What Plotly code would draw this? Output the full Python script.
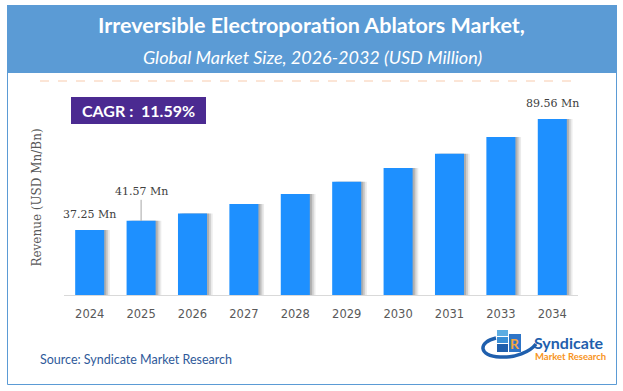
import plotly.graph_objects as go

# ---- data ----
years = ["2024", "2025", "2026", "2027", "2028", "2029", "2030", "2031", "2033", "2034"]
revenue = [37.25, 41.57, 45.0, 49.5, 54.2, 60.0, 66.5, 73.2, 81.1, 89.56]
value_labels = ["37.25 Mn", "41.57 Mn", "", "", "", "", "", "", "", "89.56 Mn"]
title_main = "Irreversible Electroporation Ablators Market,"
title_sub = "Global Market Size, 2026-2032 (USD Million)"
cagr_text = "CAGR :  11.59%"
y_title = "Revenue (USD Mn/Bn)"
source_text = "Source: Syndicate Market Research"

W, H = 623, 391
L, R, T, B = 64, 45, 100, 96
PW, PH = W - L - R, H - T - B


def px(x):
    return (x - L) / PW


def py(y):
    return (H - B - y) / PH


BAR_W = 0.565
fig = go.Figure()
# soft shadow layers
for off, alpha in [(0.11, 0.10), (0.075, 0.16), (0.04, 0.22)]:
    fig.add_trace(go.Bar(
        x=years, y=revenue, width=BAR_W, offset=-BAR_W / 2 + off,
        marker=dict(color=f"rgba(60,60,60,{alpha})", line=dict(width=0)),
        hoverinfo="skip", showlegend=False,
    ))
fig.add_trace(go.Bar(
    x=years, y=revenue, width=BAR_W, offset=-BAR_W / 2,
    marker=dict(color="#1E90FF", line=dict(width=0)),
    showlegend=False,
))

shapes = []
shapes.append(dict(type="rect", xref="paper", yref="paper",
                   x0=px(7.5), x1=px(616.5), y0=py(5.5), y1=py(384.5),
                   line=dict(color="#5B9BD5", width=1), fillcolor="rgba(0,0,0,0)", layer="below"))
shapes.append(dict(type="rect", xref="paper", yref="paper",
                   x0=px(7), x1=px(617), y0=py(5), y1=py(73),
                   line=dict(width=0), fillcolor="#5B9BD5", layer="below"))
shapes.append(dict(type="line", xref="paper", yref="paper",
                   x0=px(40), x1=px(580), y0=py(81), y1=py(81),
                   line=dict(color="#F8CBAD", width=1, dash="dash")))
shapes.append(dict(type="rect", xref="paper", yref="paper",
                   x0=px(71), x1=px(206), y0=py(97), y1=py(124),
                   line=dict(width=0), fillcolor="#4B2A91"))
shapes.append(dict(type="path", xref="paper", yref="paper",
                   path=(f"M {px(496)},{py(338)} "
                         f"C {px(478)},{py(342)} {px(478)},{py(356)} {px(500)},{py(357)} "
                         f"C {px(515)},{py(358)} {px(530)},{py(352)} {px(536)},{py(344)}"),
                   line=dict(color="#1F5FAD", width=3.5)))
for (x0, y0, x1, y1, c) in [(497, 330, 508, 336, "#5DADE2"), (497, 337, 508, 343, "#3A8FD6"),
                            (497, 344, 508, 352, "#1F5FAD"), (509, 334, 521, 352, "#2E75C7")]:
    shapes.append(dict(type="rect", xref="paper", yref="paper",
                       x0=px(x0), x1=px(x1), y0=py(y0), y1=py(y1),
                       line=dict(width=0), fillcolor=c))

annotations = [
    dict(text=f"<b>{title_main}</b>", x=px(311), y=py(25), xref="paper", yref="paper",
         showarrow=False, xanchor="center", yanchor="middle",
         font=dict(family="Lato", size=21.5, color="white")),
    dict(text=f"<i>{title_sub}</i>", x=px(312), y=py(57), xref="paper", yref="paper",
         showarrow=False, xanchor="center", yanchor="middle",
         font=dict(family="Lato", size=18, color="white")),
    dict(text=f"<b>{cagr_text}</b>", x=px(138.5), y=py(110.5), xref="paper", yref="paper",
         showarrow=False, xanchor="center", yanchor="middle",
         font=dict(family="Lato", size=16, color="white")),
    dict(text=source_text, x=px(38), y=py(359), xref="paper", yref="paper",
         showarrow=False, xanchor="left", yanchor="middle",
         font=dict(family="Lato", size=12.5, color="#2F5A9A")),
    dict(text="<b>Syndicate</b>", x=px(532), y=py(342), xref="paper", yref="paper",
         showarrow=False, xanchor="left", yanchor="middle",
         font=dict(family="Lato", size=16, color="#1F5FAD")),
    dict(text="<b>Market Research</b>", x=px(533), y=py(356), xref="paper", yref="paper",
         showarrow=False, xanchor="left", yanchor="middle",
         font=dict(family="Lato", size=9.5, color="#F7941D")),
    dict(text="<b>R</b>", x=px(515), y=py(343), xref="paper", yref="paper",
         showarrow=False, xanchor="center", yanchor="middle",
         font=dict(family="Lato", size=14, color="#F7A540")),
]

lab_font = dict(family="DejaVu Serif", size=11, color="#404040")
for i, (v, lab) in enumerate(zip(revenue, value_labels)):
    if not lab:
        continue
    if i == 1:
        annotations.append(dict(text=lab, x=i, y=v, xref="x", yref="y",
                                showarrow=True, arrowhead=0, arrowwidth=1,
                                arrowcolor="#A6A6A6", ax=0, ay=-29, font=lab_font))
    else:
        annotations.append(dict(text=lab, x=i, y=v, xref="x", yref="y",
                                showarrow=False, yanchor="bottom", yshift=7,
                                font=lab_font))

fig.update_layout(
    width=W, height=H,
    margin=dict(l=L, r=R, t=T, b=B, autoexpand=False),
    paper_bgcolor="white", plot_bgcolor="white",
    barmode="overlay",
    shapes=shapes, annotations=annotations,
    xaxis=dict(type="category", categoryorder="array", categoryarray=years,
               range=[-0.5, len(years) - 0.5], automargin=False,
               showline=True, linecolor="#D9D9D9", linewidth=1,
               ticks="", showgrid=False, zeroline=False, ticklabelstandoff=8,
               tickfont=dict(family="DejaVu Sans", size=11.5, color="#595959")),
    yaxis=dict(range=[6.6, 98.5], automargin=False, showticklabels=False, showgrid=False,
               zeroline=False, showline=False, ticks="",
               title=dict(text=y_title, standoff=18,
                          font=dict(family="DejaVu Serif", size=12, color="#595959"))),
    font=dict(family="Lato"),
)

fig.write_html("out.html", config={"displayModeBar": False},
               post_script="document.body.style.margin='0';")
